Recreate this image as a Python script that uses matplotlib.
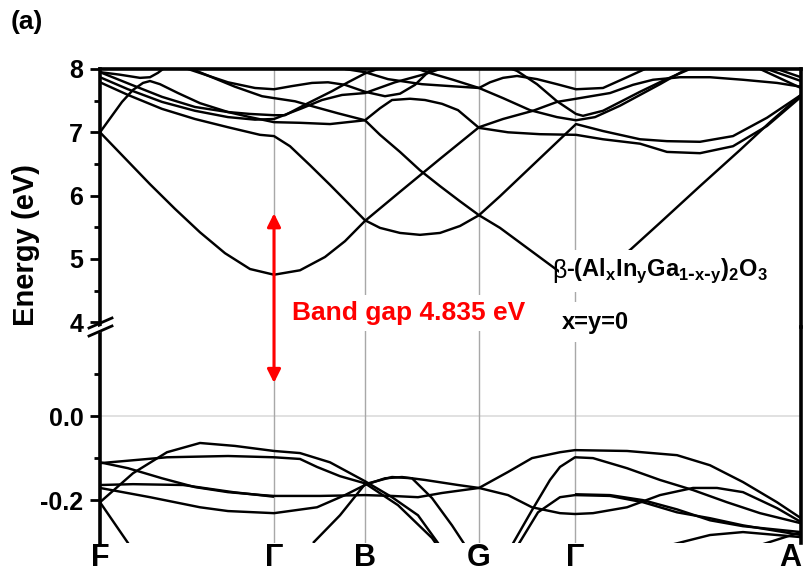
import numpy as np
import matplotlib
matplotlib.use("Agg")
import matplotlib.pyplot as plt
from matplotlib.lines import Line2D
from matplotlib.patches import Polygon, ConnectionPatch

plt.rcParams["font.family"] = ["Liberation Sans", "DejaVu Sans"]
plt.rcParams["font.weight"] = "bold"
plt.rcParams["axes.unicode_minus"] = False

# ── k-path ───────────────────────────────────────────────────────────────────
KPOINTS = [0.0, 1.74, 2.65, 3.79, 4.75, 7.01]
KLABELS = ["F", "Γ", "B", "G", "Γ", "A"]

# ── conduction bands (eV) ────────────────────────────────────────────────────
cb1_k = [0, 0.25, 0.5, 0.75, 1.0, 1.25, 1.5, 1.74, 2.0, 2.25, 2.45, 2.65, 3.0, 3.4, 3.79,
         4.03, 4.33, 4.57, 4.76, 5.1, 5.33, 5.53, 5.8, 6.1, 6.43, 6.77, 7.01]
cb1_e = [7.00, 6.59, 6.18, 5.79, 5.42, 5.09, 4.84, 4.75, 4.82, 5.03, 5.28, 5.60, 6.06, 6.58, 7.08,
         7.21, 7.34, 7.48, 7.53, 7.62, 7.75, 7.83, 7.87, 7.87, 7.83, 7.78, 7.72]

cb2_k = [0, 0.28, 0.62, 0.95, 1.28, 1.6, 1.74, 1.9, 2.1, 2.3, 2.5, 2.65, 2.8, 3.0, 3.2, 3.4,
         3.6, 3.79, 4.0, 4.3, 4.6, 4.9, 5.1, 5.3, 5.6, 6.0, 6.4, 6.7, 7.01]
cb2_e = [7.79, 7.59, 7.37, 7.21, 7.08, 6.96, 6.94, 6.78, 6.48, 6.17, 5.85, 5.61, 5.49, 5.41,
         5.38, 5.41, 5.52, 5.69, 5.49, 5.14, 4.79, 4.73, 4.89, 5.14, 5.57, 6.15, 6.72, 7.16, 7.59]

cb3_k = [0.95, 1.35, 1.62, 1.74, 1.95, 2.15, 2.38, 2.65, 2.8, 3.0, 3.2, 3.4, 3.6, 3.79, 4.0,
         4.2, 4.4, 4.6, 4.76, 5.03, 5.4, 5.67, 6.0, 6.33, 6.67, 7.01]
cb3_e = [7.98, 7.72, 7.57, 7.54, 7.49, 7.40, 7.30, 7.19, 6.96, 6.69, 6.40, 6.15, 5.91, 5.69,
         5.99, 6.29, 6.59, 6.89, 7.13, 7.02, 6.89, 6.86, 6.85, 6.94, 7.23, 7.59]

cb4_k = [0, 0.11, 0.22, 0.33, 0.43, 0.5, 0.6, 0.78, 1.0, 1.28, 1.5, 1.74, 2.0, 2.3, 2.65,
         2.8, 2.92, 3.1, 3.25, 3.42, 3.58, 3.79, 4.08, 4.4, 4.76, 5.03, 5.4, 5.67, 6.0, 6.33,
         6.67, 7.01]
cb4_e = [7.00, 7.24, 7.48, 7.67, 7.78, 7.81, 7.76, 7.62, 7.46, 7.32, 7.24, 7.16, 7.15, 7.13,
         7.19, 7.38, 7.51, 7.53, 7.51, 7.45, 7.35, 7.07, 7.00, 6.97, 6.96, 6.89, 6.82, 6.69,
         6.67, 6.78, 7.10, 7.56]

cb5_k = [0, 0.28, 0.62, 0.95, 1.28, 1.55, 1.74, 2.02, 2.22, 2.42, 2.65, 2.95, 3.25, 3.4]
cb5_e = [7.87, 7.68, 7.48, 7.34, 7.24, 7.20, 7.21, 7.38, 7.51, 7.59, 7.62, 7.79, 7.92, 8.0]

cb6_k = [0, 0.3, 0.62, 0.95, 1.28, 1.5, 1.74, 1.85, 2.08, 2.32, 2.48, 2.65, 2.78]
cb6_e = [7.95, 7.76, 7.56, 7.40, 7.32, 7.29, 7.27, 7.27, 7.46, 7.65, 7.79, 7.93, 8.0]

cb7_k = [0.88, 1.28, 1.55, 1.74, 1.92, 2.12, 2.28, 2.45, 2.65, 2.85, 3.0, 3.15, 3.28, 3.32]
cb7_e = [8.0, 7.79, 7.70, 7.68, 7.73, 7.78, 7.79, 7.75, 7.64, 7.57, 7.61, 7.75, 7.95, 8.0]

cb8_k = [2.45, 2.65, 2.88, 3.22, 3.5, 3.79, 3.9, 4.03, 4.17, 4.37, 4.57, 4.76, 5.03, 5.27, 5.45]
cb8_e = [8.00, 7.95, 7.84, 7.76, 7.73, 7.70, 7.79, 7.86, 7.89, 7.84, 7.76, 7.68, 7.70, 7.87, 8.0]

cb9_k = [3.18, 3.27, 3.53, 3.79, 4.03, 4.3, 4.57, 4.76, 4.95, 5.2, 5.4, 5.6, 5.8, 5.88]
cb9_e = [8.0, 7.95, 7.83, 7.70, 7.54, 7.35, 7.24, 7.19, 7.24, 7.42, 7.59, 7.76, 7.94, 8.0]

cb10_k = [4.12, 4.17, 4.37, 4.57, 4.76, 4.83, 5.03, 5.4, 5.65, 5.9]
cb10_e = [8.0, 7.97, 7.76, 7.49, 7.29, 7.26, 7.34, 7.64, 7.83, 8.0]

cb11_k = [0, 0.2, 0.4, 0.5, 0.58, 0.63]
cb11_e = [7.95, 7.91, 7.86, 7.87, 7.94, 8.0]

cb12_k = [6.6, 7.01]
cb12_e = [8.0, 7.70]
cb13_k = [6.67, 7.01]
cb13_e = [8.0, 7.81]
cb14_k = [6.77, 7.01]
cb14_e = [8.0, 7.87]

# ── valence bands (eV) ───────────────────────────────────────────────────────
vb1_k = [0, 0.33, 0.67, 1.0, 1.35, 1.74, 2.0, 2.3, 2.65, 2.92, 3.18, 3.38, 3.4]
vb1_e = [-0.205, -0.136, -0.086, -0.064, -0.071, -0.083, -0.088, -0.110, -0.155, -0.193,
         -0.236, -0.302, -0.31]

vb2_k = [0, 0.67, 1.28, 1.74, 2.0, 2.17, 2.4, 2.65, 2.98, 3.32, 3.37]
vb2_e = [-0.112, -0.098, -0.095, -0.098, -0.102, -0.121, -0.143, -0.160, -0.212, -0.290, -0.307]

vb3_k = [0, 0.28, 0.62, 0.95, 1.28, 1.62, 1.74, 2.2, 2.65, 2.92, 3.18, 3.42, 3.79, 4.08,
         4.32, 4.6, 4.75, 4.93, 5.27, 5.6, 5.93, 6.17, 6.43, 6.77, 7.01]
vb3_e = [-0.110, -0.124, -0.148, -0.169, -0.181, -0.188, -0.190, -0.190, -0.188, -0.190,
         -0.193, -0.183, -0.171, -0.188, -0.217, -0.231, -0.233, -0.231, -0.217, -0.188,
         -0.171, -0.171, -0.181, -0.219, -0.252]

vb4_k = [0, 0.33, 0.83, 1.33, 1.67, 1.74]
vb4_e = [-0.164, -0.162, -0.164, -0.181, -0.190, -0.192]

vb5_k = [0, 0.5, 1.0, 1.28, 1.74, 2.17, 2.45, 2.65, 2.85, 3.02, 3.25, 3.58, 3.79, 4.08,
         4.32, 4.6, 4.75, 5.27, 5.77, 6.1, 6.43, 6.77, 7.01]
vb5_e = [-0.171, -0.193, -0.217, -0.226, -0.231, -0.217, -0.188, -0.164, -0.148, -0.145,
         -0.152, -0.164, -0.171, -0.133, -0.100, -0.086, -0.081, -0.083, -0.093, -0.117,
         -0.157, -0.205, -0.243]

vb6_k = [2.13, 2.4, 2.65, 2.92, 3.12, 3.32, 3.52, 3.65]
vb6_e = [-0.302, -0.236, -0.162, -0.145, -0.148, -0.195, -0.260, -0.307]

vb7_k = [0, 0.28, 0.3]
vb7_e = [-0.205, -0.302, -0.31]

vb8_k = [4.12, 4.32, 4.5, 4.6, 4.75, 4.93, 5.27, 5.6, 5.93, 6.27, 6.6, 7.01]
vb8_e = [-0.307, -0.224, -0.152, -0.121, -0.098, -0.100, -0.124, -0.152, -0.176, -0.205,
         -0.231, -0.255]

vb9_k = [4.18, 4.38, 4.6, 4.75, 5.1, 5.43, 5.77, 6.1, 6.43, 7.01]
vb9_e = [-0.307, -0.229, -0.193, -0.188, -0.190, -0.205, -0.229, -0.243, -0.260, -0.283]

vb10_k = [4.75, 5.1, 5.43, 5.77, 6.1, 6.43, 7.01]
vb10_e = [-0.186, -0.188, -0.200, -0.222, -0.248, -0.262, -0.276]

vb11_k = [5.7, 6.1, 6.43, 6.77, 7.01]
vb11_e = [-0.307, -0.283, -0.276, -0.283, -0.288]

vb12_k = [6.6, 7.01]
vb12_e = [-0.307, -0.276]

CB = [(cb1_k, cb1_e), (cb2_k, cb2_e), (cb3_k, cb3_e), (cb4_k, cb4_e), (cb5_k, cb5_e),
      (cb6_k, cb6_e), (cb7_k, cb7_e), (cb8_k, cb8_e), (cb9_k, cb9_e), (cb10_k, cb10_e),
      (cb11_k, cb11_e), (cb12_k, cb12_e), (cb13_k, cb13_e), (cb14_k, cb14_e)]
VB = [(vb1_k, vb1_e), (vb2_k, vb2_e), (vb3_k, vb3_e), (vb4_k, vb4_e), (vb5_k, vb5_e),
      (vb6_k, vb6_e), (vb7_k, vb7_e), (vb8_k, vb8_e), (vb9_k, vb9_e), (vb10_k, vb10_e),
      (vb11_k, vb11_e), (vb12_k, vb12_e)]

BAND_GAP = 4.835
CBM_ARROW = 5.72     # arrow tip in the upper panel
VBM_ARROW = 0.079    # arrow tip in the lower panel

# ── figure ───────────────────────────────────────────────────────────────────
W, H = 805, 569
fig = plt.figure(figsize=(W / 100, H / 100), dpi=100)
fig.patch.set_facecolor("white")

def px(x, y):
    return x / W, 1 - y / H

x0, x1, y_top, y_brk, y_bot = 100, 801, 69, 327, 543
ax_up = fig.add_axes([x0 / W, 1 - y_brk / H, (x1 - x0) / W, (y_brk - y_top) / H])
ax_lo = fig.add_axes([x0 / W, 1 - y_bot / H, (x1 - x0) / W, (y_bot - y_brk) / H])

GREY = "#a8a8a8"
SPINE_W = 2.6

for ax in (ax_up, ax_lo):
    ax.patch.set_visible(False)
    ax.set_xlim(KPOINTS[0], KPOINTS[-1])
    for k in KPOINTS[1:-1]:
        ax.axvline(k, color=GREY, lw=1.0, zorder=1)
    ax.spines["left"].set_linewidth(SPINE_W)
    ax.spines["right"].set_linewidth(SPINE_W)
    ax.spines["top"].set_linewidth(SPINE_W)
    ax.tick_params(axis="y", which="major", direction="out", length=7, width=2,
                   labelsize=18, pad=5, right=False)
    ax.tick_params(axis="y", which="minor", direction="out", length=4, width=2)

for k, e in CB:
    ax_up.plot(k, e, color="black", lw=1.75, zorder=3, solid_capstyle="butt")
for k, e in VB:
    ax_lo.plot(k, e, color="black", lw=1.75, zorder=3, solid_capstyle="butt")

ax_lo.axhline(0.0, color="#dcdcdc", lw=1.2, zorder=0)

# upper panel
ax_up.set_ylim(3.924, 8.0)
ax_up.set_yticks([4, 5, 6, 7, 8])
ax_up.set_yticks([4.5, 5.5, 6.5, 7.5], minor=True)
ax_up.spines["bottom"].set_visible(False)
ax_up.set_xticks([])

# lower panel
ax_lo.set_ylim(-0.302, 0.212)
ax_lo.set_yticks([-0.2, 0.0])
ax_lo.set_yticklabels(["-0.2", "0.0"])
ax_lo.set_yticks([-0.1, 0.1], minor=True)
ax_lo.spines["top"].set_visible(False)
ax_lo.spines["bottom"].set_visible(False)
ax_lo.set_xticks(KPOINTS)
ax_lo.set_xticklabels(KLABELS, fontsize=22, fontweight="bold")
ax_lo.tick_params(axis="x", length=0, pad=0)
ax_lo.get_xticklabels()[-1].set_horizontalalignment("right")

# band-gap arrow spanning both panels
arrow = ConnectionPatch(xyA=(KPOINTS[1], CBM_ARROW), coordsA=ax_up.transData,
                        xyB=(KPOINTS[1], VBM_ARROW), coordsB=ax_lo.transData,
                        arrowstyle="<|-|>", color="red", lw=2.2, mutation_scale=20,
                        shrinkA=0, shrinkB=0, zorder=6)
fig.add_artist(arrow)

# axis break marks on the left spine
for dy in (-4, 4):
    fig.add_artist(Line2D([px(89, 0)[0], px(112, 0)[0]],
                          [px(0, y_brk + dy + 5)[1], px(0, y_brk + dy - 5)[1]],
                          color="black", lw=2.0, zorder=6))
gap = Polygon([px(96, y_brk + 1), px(106, y_brk - 3), px(106, y_brk + 3), px(96, y_brk + 7)],
              closed=True, transform=fig.transFigure, facecolor="white",
              edgecolor="none", zorder=5)
fig.add_artist(gap)

# texts
fig.text(*px(292, 313), f"Band gap {BAND_GAP} eV", color="red", fontsize=19,
         fontweight="bold", ha="left", va="center",
         bbox=dict(facecolor="white", edgecolor="none", pad=4), zorder=7)
fig.text(*px(566, 271),
         r"-(Al$_\mathregular{x}$In$_\mathregular{y}$Ga$_\mathregular{1\text{-}x\text{-}y}$)"
         r"$_\mathregular{2}$O$_\mathregular{3}$",
         fontsize=17, fontweight="bold", ha="left", va="center",
         bbox=dict(facecolor="white", edgecolor="none", pad=5), zorder=7)
fig.text(*px(552, 271), "β", fontsize=18, fontweight="normal", ha="left",
         va="center", zorder=8)
fig.text(*px(562, 322), "x=y=0", fontsize=17, fontweight="bold", ha="left",
         va="center", bbox=dict(facecolor="white", edgecolor="none", pad=6), zorder=7)
fig.text(*px(11, 22), "(a)", fontsize=19, fontweight="bold", ha="left", va="center")
fig.text(*px(26, 245), "Energy (eV)", fontsize=21, fontweight="bold", rotation=90,
         ha="center", va="center")

fig.savefig("out.png", dpi=100)
